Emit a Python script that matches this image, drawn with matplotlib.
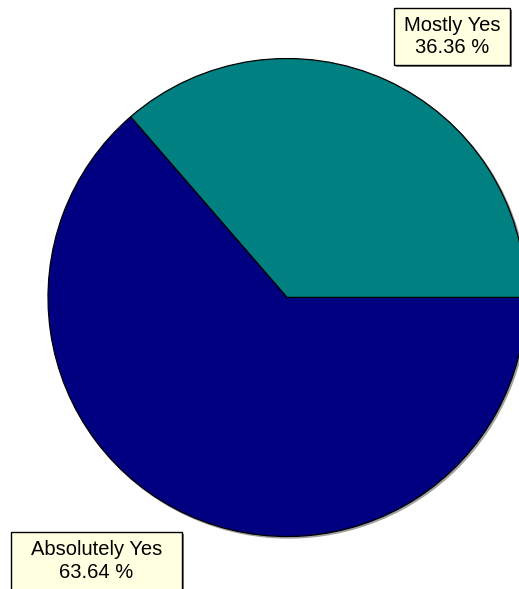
import matplotlib
matplotlib.use("Agg")
import matplotlib.pyplot as plt
from matplotlib.patches import Rectangle, Circle

# chart data
categories = ["Mostly Yes", "Absolutely Yes"]
shares = [36.36, 63.64]
colors = ["#008080", "#000080"]

# label boxes in pixel coords (x0, y0, x1, y1)
label_boxes = [(394, 8, 510, 65), (11, 532, 182, 600)]

fig = plt.figure(figsize=(5.19, 5.89), dpi=100)
ax = fig.add_axes([0, 0, 1, 1])
ax.set_xlim(0, 519)
ax.set_ylim(589, 0)
ax.axis("off")

cx, cy, r = 287, 297.5, 239

# faint shadow under the pie
ax.add_patch(Circle((cx + 1.5, cy + 1.5), r, color="#a0a0a0", zorder=0))

ax.pie(shares, colors=colors, center=(cx, cy), radius=r,
       startangle=0, counterclock=False, frame=True,
       wedgeprops=dict(edgecolor="black", linewidth=0.9))
ax.set_xlim(0, 519)
ax.set_ylim(589, 0)
ax.set_aspect("auto")
ax.axis("off")

for name, val, (x0, y0, x1, y1) in zip(categories, shares, label_boxes):
    ax.add_patch(Rectangle((x0 + 2, y0 + 2), x1 - x0, y1 - y0,
                           facecolor="#808080", edgecolor="none", zorder=3))
    ax.add_patch(Rectangle((x0, y0), x1 - x0, y1 - y0,
                           facecolor="#FFFFE1", edgecolor="black",
                           linewidth=1, zorder=4))
    ty = (y0 + min(y1, 589)) / 2 if y1 <= 589 else y0 + 29
    ax.text((x0 + x1) / 2, ty, f"{name}\n{val:.2f} %",
            ha="center", va="center", fontsize=14.5,
            family="Liberation Sans", linespacing=1.25, zorder=5)

fig.savefig("out.png", dpi=100)
